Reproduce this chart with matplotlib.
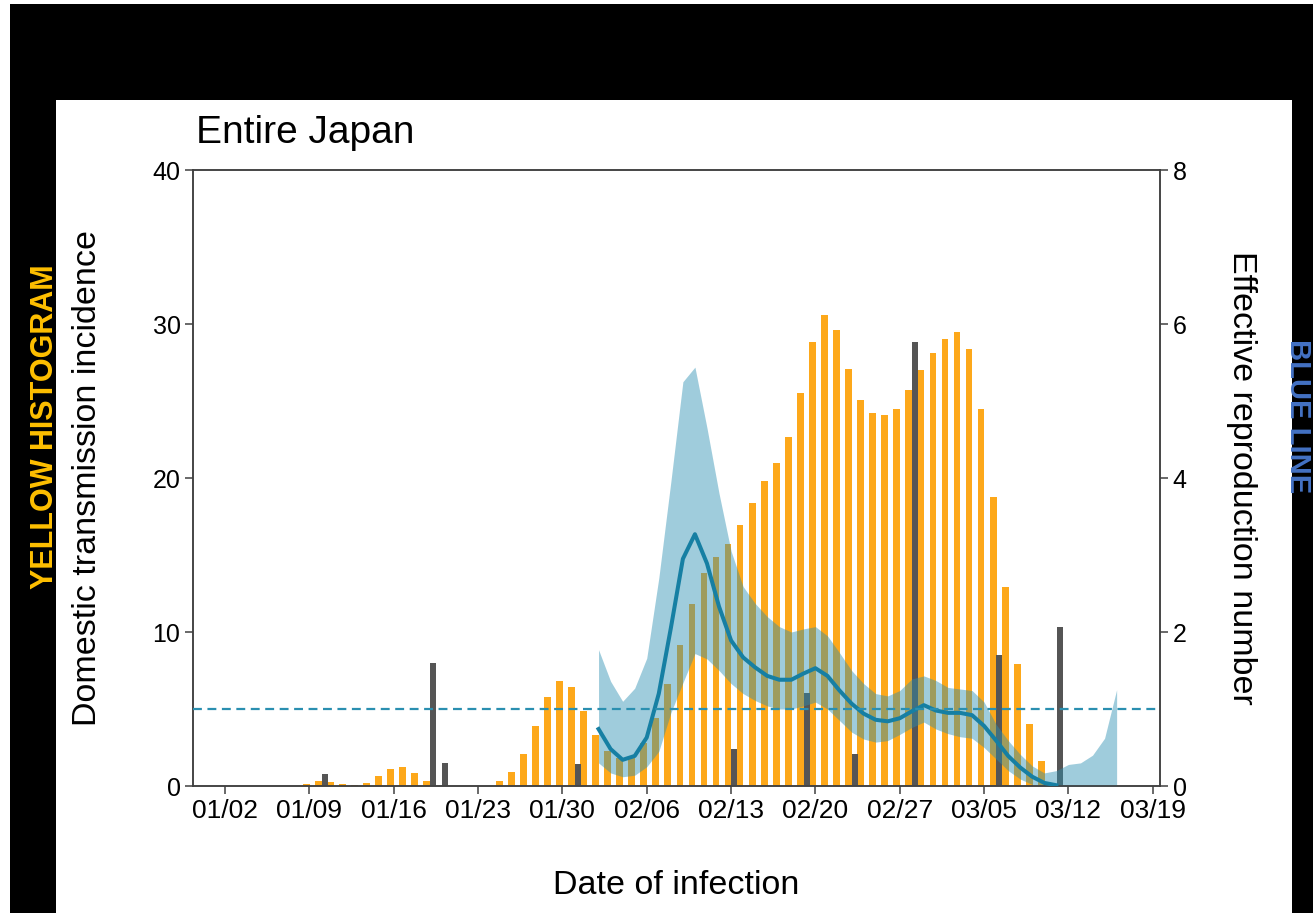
import matplotlib as mpl
mpl.use('Agg')
import matplotlib.pyplot as plt
from matplotlib.patches import Rectangle
import numpy as np

plt.rcParams['font.family'] = ['Liberation Sans', 'DejaVu Sans']

W, H = 1313, 913

# days counted from 01/01 (01/02 = 1)
yellow_days = list(range(8, 70))
yellow_vals = [0.15, 0.3, 0.28, 0.13, 0.07, 0.2, 0.63, 1.13, 1.26, 0.87, 0.35,
               0, 0, 0, 0, 0,
               0.3, 0.92, 2.1, 3.87, 5.75, 6.83, 6.44, 4.86, 3.34,
               2.3, 1.8, 1.9, 2.8, 4.4, 6.6, 9.15, 11.85, 13.8, 14.9, 15.7,
               16.96, 18.4, 19.8, 21.0, 22.65, 25.5, 28.85, 30.6, 29.6, 27.1,
               25.05, 24.2, 24.1, 24.5, 25.7, 27.0, 28.1, 29.0, 29.5, 28.4,
               24.5, 18.77, 12.94, 7.9, 4.05, 1.62]

gray_days = [9, 18, 19, 30, 43, 49, 53, 58, 65, 70]
gray_vals = [0.8, 8.0, 1.52, 1.45, 2.4, 6.02, 2.07, 28.85, 8.5, 10.3]

r_days = list(range(32, 71))
r_mean = [0.74, 0.48, 0.34, 0.39, 0.63, 1.2, 2.05, 2.95, 3.27, 2.89, 2.33,
          1.89, 1.67, 1.54, 1.43, 1.38, 1.38, 1.46, 1.53, 1.43, 1.24, 1.07,
          0.94, 0.86, 0.84, 0.88, 0.97, 1.05, 0.98, 0.95, 0.95, 0.92, 0.78,
          0.59, 0.39, 0.24, 0.12, 0.04, 0.01]

ci_days = list(range(32, 76))
ci_upper = [1.77, 1.36, 1.1, 1.27, 1.66, 2.7, 3.95, 5.25, 5.44, 4.65, 3.8,
            3.05, 2.59, 2.37, 2.2, 2.07, 2.0, 2.04, 2.07, 1.95, 1.73, 1.5,
            1.33, 1.2, 1.17, 1.24, 1.39, 1.43, 1.37, 1.28, 1.26, 1.24, 1.09,
            0.8, 0.59, 0.41, 0.26, 0.17, 0.2, 0.28, 0.3, 0.4, 0.62, 1.25]
ci_lower = [0.3, 0.17, 0.12, 0.14, 0.25, 0.45, 0.95, 1.34, 1.72, 1.65, 1.5,
            1.33, 1.2, 1.11, 1.04, 1.0, 1.0, 1.04, 1.09, 1.0, 0.85, 0.7,
            0.61, 0.57, 0.59, 0.67, 0.76, 0.83, 0.74, 0.68, 0.64, 0.62, 0.5,
            0.35, 0.2, 0.09, 0.02, 0, 0, 0, 0, 0, 0, 0]

tick_days = list(range(1, 79, 7))
tick_labels = ['01/02', '01/09', '01/16', '01/23', '01/30', '02/06',
               '02/13', '02/20', '02/27', '03/05', '03/12', '03/19']

fig = plt.figure(figsize=(W / 100, H / 100), dpi=100, facecolor='black')
# white panel of the slide
fig.add_artist(Rectangle((56 / W, 0), (1292 - 56) / W, (913 - 100) / H,
                         transform=fig.transFigure, facecolor='white', zorder=0))
fig.add_artist(Rectangle((0, 0), 10 / W, 1, transform=fig.transFigure,
                         facecolor='white', zorder=0))
fig.add_artist(Rectangle((0, 1 - 4 / H), 1, 4 / H, transform=fig.transFigure,
                         facecolor='white', zorder=0))

ax = fig.add_axes([193 / W, 1 - 786 / H, (1160 - 193) / W, (786 - 170) / H])
ax2 = ax.twinx()

ax.bar(np.array(yellow_days) - 0.25, yellow_vals, width=0.56, color='#FDA81A', zorder=2)
ax.bar(np.array(gray_days) + 0.27, gray_vals, width=0.5, color='#555555', zorder=3)

ax2.fill_between(ci_days, ci_lower, ci_upper, color='#2B8FB2', alpha=0.45,
                 linewidth=0, zorder=2)
ax2.plot(r_days, r_mean, color='#167FA3', lw=2.9, zorder=3)
ax2.axhline(1, color='#2A8FB0', lw=1.6, dashes=(4, 2.5), zorder=4)

ax.set_xlim(-1.66, 78.6)
ax.set_ylim(0, 40)
ax2.set_ylim(0, 8)
ax.set_xticks(tick_days)
ax.set_xticklabels(tick_labels)
ax.set_yticks([0, 10, 20, 30, 40])
ax2.set_yticks([0, 2, 4, 6, 8])

for a in (ax, ax2):
    for s in a.spines.values():
        s.set_color('#404040')
        s.set_linewidth(1.1)
ax.tick_params(axis='x', length=6, width=1.1, color='#404040', labelsize=19, pad=3)
ax.tick_params(axis='y', length=6, width=1.1, color='#404040', labelsize=18, pad=3)
ax2.tick_params(axis='y', length=6, width=1.1, color='#404040', labelsize=18, pad=3)

fig.text(196 / W, 1 - 133 / H, 'Entire Japan', fontsize=28, va='center', ha='left')
fig.text(88 / W, 1 - 478 / H, 'Domestic transmission incidence', fontsize=24.5,
         rotation=90, va='center', ha='center')
fig.text(1241 / W, 1 - 478 / H, 'Effective reproduction number', fontsize=24.5,
         rotation=270, va='center', ha='center')
fig.text(676 / W, 1 - 885 / H, 'Date of infection', fontsize=24.5,
         va='center', ha='center')

# slide annotations in the black margins
fig.text(45 / W, 1 - 427 / H, 'YELLOW HISTOGRAM', fontsize=22, fontweight='bold',
         color='#FFC000', rotation=90, va='center', ha='center')
fig.text(1298 / W, 1 - 416 / H, 'BLUE LINE', fontsize=21, fontweight='bold',
         color='#4472C4', rotation=270, va='center', ha='center')

fig.savefig('out.png', dpi=100, facecolor=fig.get_facecolor())
